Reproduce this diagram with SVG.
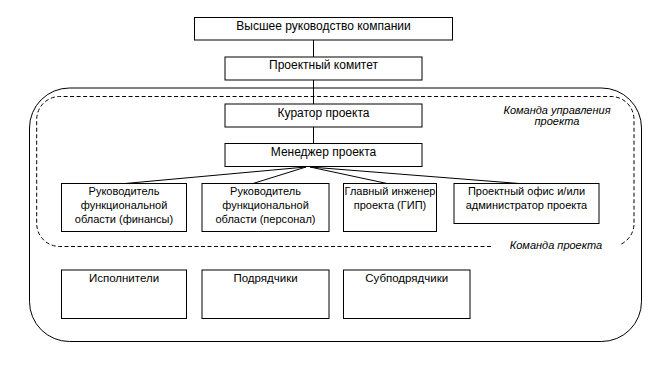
<svg xmlns="http://www.w3.org/2000/svg" width="669" height="375" viewBox="0 0 669 375">
<style>
.box{fill:#fff;stroke:#000;stroke-width:1}
.t{font-family:"Liberation Sans",Arial,sans-serif;font-size:12px;fill:#000;text-anchor:middle}
.s{font-size:11px}
.m{font-size:11.5px}
.lbl{font-family:"Liberation Sans",Arial,sans-serif;font-size:11px;font-style:italic;fill:#000;text-anchor:middle}
.edge{fill:none;stroke:#000;stroke-width:1}
.dash{fill:none;stroke:#000;stroke-width:1;stroke-dasharray:4 2.5}
</style>
<rect width="669" height="375" fill="#fff"/>
<g id="frames">
<rect x="29.5" y="88" width="612" height="253.5" rx="40" ry="40" class="edge"/>
<path class="dash" d="M491 246.5 H59.7 A23 23 0 0 1 36.7 223.5 V119.5 A23 23 0 0 1 59.7 96.5 H611 A23 23 0 0 1 634 119.5 V223.5 A23 23 0 0 1 619.6 244.8"/>
<text class="lbl" x="557" y="114">Команда управления</text>
<text class="lbl" x="557" y="124.5">проекта</text>
<text class="lbl" x="556" y="249">Команда проекта</text>
</g>
<g id="connectors">
<line class="edge" x1="313.5" y1="40" x2="313.5" y2="57"/>
<line class="edge" x1="313.5" y1="80" x2="313.5" y2="104"/>
<line class="edge" x1="313.5" y1="127" x2="313.5" y2="143.5"/>
<line class="edge" x1="306" y1="167" x2="125" y2="183.5"/>
<line class="edge" x1="306" y1="167" x2="253" y2="183.5"/>
<line class="edge" x1="310" y1="167" x2="387" y2="183.5"/>
<line class="edge" x1="310" y1="167" x2="519" y2="183.5"/>
</g>
<g id="n-top">
<rect class="box" x="194.5" y="17.5" width="258" height="22.5"/>
<text class="t" x="323.5" y="29.5">Высшее руководство компании</text>
</g>
<g id="n-committee">
<rect class="box" x="225" y="57" width="197" height="23"/>
<text class="t" x="323.5" y="69">Проектный комитет</text>
</g>
<g id="n-curator">
<rect class="box" x="225" y="104" width="197" height="23"/>
<text class="t" x="323.5" y="116.5">Куратор проекта</text>
</g>
<g id="n-manager">
<rect class="box" x="225" y="143.5" width="197" height="23"/>
<text class="t" x="323.5" y="156">Менеджер проекта</text>
</g>
<g id="n-fin">
<rect class="box" x="61.5" y="183.5" width="125" height="48"/>
<text class="t s" x="124" y="194.5">Руководитель</text>
<text class="t s" x="124" y="208.5">функциональной</text>
<text class="t s" x="124" y="222.5">области (финансы)</text>
</g>
<g id="n-hr">
<rect class="box" x="202" y="183.5" width="127" height="48"/>
<text class="t s" x="265.5" y="194.5">Руководитель</text>
<text class="t s" x="265.5" y="208.5">функциональной</text>
<text class="t s" x="265.5" y="222.5">области (персонал)</text>
</g>
<g id="n-gip">
<rect class="box" x="343.5" y="183.5" width="93" height="48"/>
<text class="t s" x="390" y="194.5">Главный инженер</text>
<text class="t s" x="390" y="208.5">проекта (ГИП)</text>
</g>
<g id="n-office">
<rect class="box" x="454" y="183.5" width="145" height="40"/>
<text class="t s" x="526.5" y="194.5">Проектный офис и/или</text>
<text class="t s" x="526.5" y="208.5">администратор проекта</text>
</g>
<g id="n-exec">
<rect class="box" x="61.5" y="270" width="125" height="48.5"/>
<text class="t m" x="124" y="282">Исполнители</text>
</g>
<g id="n-contr">
<rect class="box" x="202" y="270" width="127" height="48.5"/>
<text class="t m" x="265.5" y="282">Подрядчики</text>
</g>
<g id="n-sub">
<rect class="box" x="343.5" y="270" width="126.5" height="48.5"/>
<text class="t m" x="406.7" y="282">Субподрядчики</text>
</g>
</svg>
